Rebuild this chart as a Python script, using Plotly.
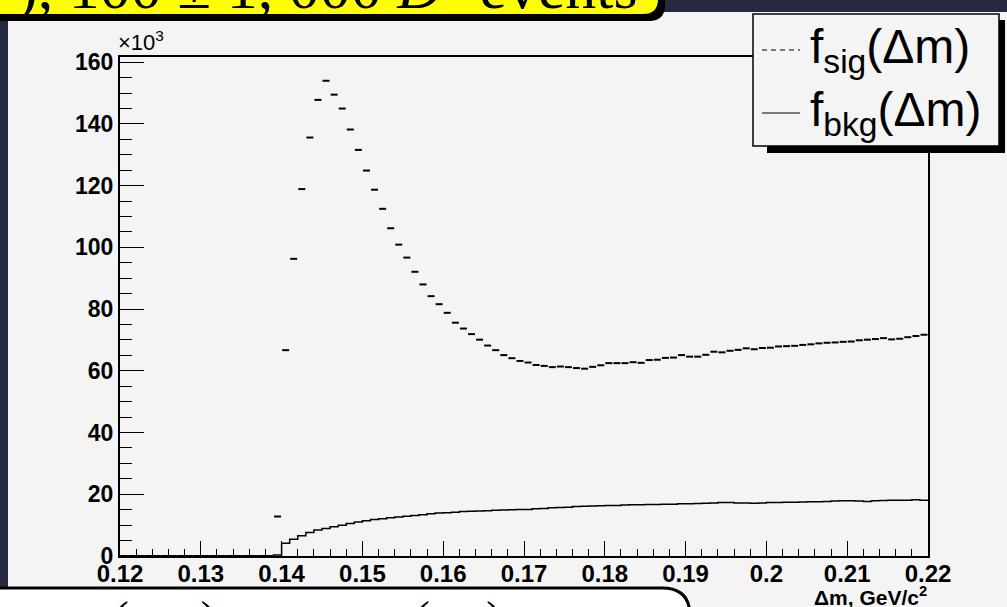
import numpy as np
import plotly.graph_objects as go

# ---------------- data (values in units of 10^3 entries) ----------------
bin_lo, bin_hi, n_bins = 0.12, 0.22, 100

sig_counts = [0.0] * 19 + [
    12.8, 66.7, 96.3, 118.9, 135.6, 147.8, 154.0, 149.5, 145.0, 138.2,
    131.6, 124.9, 118.7, 112.5, 106.2, 100.9, 96.7, 92.1, 88.0, 84.2,
    81.6, 78.8, 75.6, 73.7, 71.9, 70.1, 68.2, 66.7, 65.1, 64.1,
    63.2, 62.7, 61.9, 61.6, 61.2, 61.4, 61.2, 60.9, 60.7, 61.3,
    61.8, 62.5, 62.5, 62.5, 62.8, 62.6,
    63.5, 63.6, 64.2, 64.3, 65.1, 64.6, 64.6, 65.2, 66.2, 66.0,
    66.5, 66.8, 67.3, 67.0, 67.4, 67.5, 67.9, 68.0, 68.1, 68.4,
    68.6, 68.9, 69.1, 69.2, 69.4, 69.5, 69.9, 70.1, 70.3, 70.6,
    70.2, 70.4, 70.9, 71.3, 71.7,
]

bkg_counts = [0.0] * 19 + [
    0.3,
    4.1, 5.4, 6.6, 7.6, 8.4, 8.9, 9.5, 10.0, 10.5, 11.0,
    11.4, 11.8, 12.1, 12.4, 12.6, 12.9, 13.1, 13.4, 13.7, 13.9,
    14.0, 14.2, 14.4, 14.5, 14.6, 14.7, 14.8, 14.9, 15.0, 15.1,
    15.1, 15.3, 15.4, 15.6, 15.7, 15.8, 16.0, 16.1,
    16.2, 16.3, 16.4, 16.4, 16.5, 16.6, 16.6, 16.7, 16.7, 16.8,
    16.8, 16.9, 16.9, 17.0, 17.1, 17.2, 17.3, 17.3, 17.2, 17.2,
    17.1, 17.2, 17.3, 17.3, 17.4, 17.4, 17.5, 17.6, 17.6, 17.7,
    17.8, 17.9, 17.9, 17.8, 17.7, 17.9, 18.0, 18.1, 18.1, 18.1,
    18.2, 18.1,
]

x_ticks = [0.12, 0.13, 0.14, 0.15, 0.16, 0.17, 0.18, 0.19, 0.2, 0.21, 0.22]
x_tick_labels = ["0.12", "0.13", "0.14", "0.15", "0.16", "0.17", "0.18", "0.19", "0.2", "0.21", "0.22"]
y_ticks = [0, 20, 40, 60, 80, 100, 120, 140, 160]
y_tick_labels = ["0", "20", "40", "60", "80", "100", "120", "140", "160"]
y_max = 1.05 * max(sig_counts)

edges = np.linspace(bin_lo, bin_hi, n_bins + 1)
centers = 0.5 * (edges[:-1] + edges[1:])

# ---------------- geometry helpers (pixel -> paper) ----------------
W, H = 1007, 607
L, R, T, B = 120, 928, 57, 556


def px(x):
    return (x - L) / (R - L)


def py(y):
    return (B - y) / (B - T)


PAGE = "#262a40"
PAD = "#f4f4f4"

fig = go.Figure()

# signal: dashed histogram (one dash per bin)
fig.add_trace(go.Scatter(
    x=centers, y=sig_counts, mode="markers",
    marker=dict(symbol="line-ew-open", size=5, color="black",
                line=dict(color="black", width=2)),
    showlegend=False, hoverinfo="skip"))

# background: solid step histogram
fig.add_trace(go.Scatter(
    x=list(edges[:-1]) + [edges[-1]], y=bkg_counts + [bkg_counts[-1]],
    mode="lines", line=dict(color="black", width=1.5, shape="hv"),
    showlegend=False, hoverinfo="skip"))

shapes = []
# pad
shapes.append(dict(type="rect", xref="paper", yref="paper", layer="below",
                   x0=px(8), x1=px(1015), y0=py(615), y1=py(12),
                   fillcolor=PAD, line=dict(width=0)))


def rounded_box(x0, y0, x1, y1, r, corner):
    # corner: 'br' (bottom-right rounded) or 'tr' (top-right rounded)
    if corner == "br":
        p = (f"M {px(x0)},{py(y0)} L {px(x1)},{py(y0)} L {px(x1)},{py(y1 - r)} "
             f"Q {px(x1)},{py(y1)} {px(x1 - r)},{py(y1)} L {px(x0)},{py(y1)} Z")
    else:
        p = (f"M {px(x0)},{py(y1)} L {px(x0)},{py(y0)} L {px(x1 - r)},{py(y0)} "
             f"Q {px(x1)},{py(y0)} {px(x1)},{py(y0 + r)} L {px(x1)},{py(y1)} Z")
    return p


# yellow title box with shadow
shapes.append(dict(type="path", xref="paper", yref="paper", layer="above",
                   path=rounded_box(-20, -20, 665, 21, 16, "br"),
                   fillcolor="black", line=dict(width=0)))
shapes.append(dict(type="path", xref="paper", yref="paper", layer="above",
                   path=rounded_box(-20, -20, 659, 15, 16, "br"),
                   fillcolor="#ffff00", line=dict(color="black", width=2)))

# bottom white box
shapes.append(dict(type="path", xref="paper", yref="paper", layer="above",
                   path=rounded_box(-20, 588, 690, 630, 28, "tr"),
                   fillcolor="white", line=dict(color="black", width=3)))

# legend box with shadow
shapes.append(dict(type="rect", xref="paper", yref="paper", layer="above",
                   x0=px(767), x1=px(1005), y0=py(153), y1=py(20),
                   fillcolor="black", line=dict(width=0)))
shapes.append(dict(type="rect", xref="paper", yref="paper", layer="above",
                   x0=px(753), x1=px(999), y0=py(146), y1=py(14),
                   fillcolor=PAD, line=dict(color="black", width=1.5)))
shapes.append(dict(type="line", xref="paper", yref="paper", layer="above",
                   x0=px(762), x1=px(800), y0=py(50), y1=py(50),
                   line=dict(color="black", width=1, dash="5px,4px")))
shapes.append(dict(type="line", xref="paper", yref="paper", layer="above",
                   x0=px(762), x1=px(800), y0=py(113), y1=py(113),
                   line=dict(color="black", width=1.2)))

annotations = []
serif = "Liberation Serif"
sans = "Liberation Sans"
annotations.append(dict(xref="paper", yref="paper", x=px(640), y=py(24),
                        xanchor="right", yanchor="bottom", showarrow=False,
                        text="), 100 ± 1, 000 <i>D</i><sup>0</sup> events",
                        font=dict(family=serif, size=62, color="black")))
annotations.append(dict(xref="paper", yref="paper", x=px(112), y=py(591),
                        xanchor="left", yanchor="top", showarrow=False,
                        text="(m<sub>Kπ</sub>)",
                        font=dict(family=serif, size=44, color="black")))
annotations.append(dict(xref="paper", yref="paper", x=px(413), y=py(591),
                        xanchor="left", yanchor="top", showarrow=False,
                        text="(m<sub>K</sub>)",
                        font=dict(family=serif, size=44, color="black")))
annotations.append(dict(xref="paper", yref="paper", x=px(808), y=py(50),
                        xanchor="left", yanchor="middle", showarrow=False,
                        text="f<sub>sig</sub>(Δm)",
                        font=dict(family=sans, size=48, color="black")))
annotations.append(dict(xref="paper", yref="paper", x=px(808), y=py(113),
                        xanchor="left", yanchor="middle", showarrow=False,
                        text="f<sub>bkg</sub>(Δm)",
                        font=dict(family=sans, size=48, color="black")))
annotations.append(dict(xref="paper", yref="paper", x=px(116), y=py(57),
                        xanchor="left", yanchor="bottom", showarrow=False,
                        text="×10<sup>3</sup>",
                        font=dict(family=sans, size=22, color="black")))
annotations.append(dict(xref="paper", yref="paper", x=px(929), y=py(611),
                        xanchor="right", yanchor="bottom", showarrow=False,
                        text="Δm, GeV/c<sup>2</sup>",
                        font=dict(family=sans, size=21, color="black", weight="bold")))

fig.update_layout(
    width=W, height=H,
    margin=dict(l=L, r=W - R, t=T, b=H - B, pad=0),
    paper_bgcolor=PAGE, plot_bgcolor=PAD,
    shapes=shapes, annotations=annotations,
    showlegend=False,
)
fig.update_xaxes(
    range=[bin_lo, bin_hi], tickvals=x_ticks, ticktext=x_tick_labels,
    ticks="inside", ticklen=15, tickwidth=1.2, tickcolor="black",
    minor=dict(dtick=0.002, ticks="inside", ticklen=7, tickwidth=1, tickcolor="black"),
    showline=True, linecolor="black", linewidth=2, mirror=True,
    showgrid=False, zeroline=False, ticklabelstandoff=-5,
    tickfont=dict(family=sans, size=24, color="black", weight="bold"),
)
fig.update_yaxes(
    range=[0, y_max], tickvals=y_ticks, ticktext=y_tick_labels,
    ticks="inside", ticklen=24, tickwidth=1.2, tickcolor="black",
    minor=dict(dtick=5, ticks="inside", ticklen=12, tickwidth=1, tickcolor="black"),
    showline=True, linecolor="black", linewidth=2, mirror=True,
    showgrid=False, zeroline=False,
    tickfont=dict(family=sans, size=23, color="black", weight="bold"),
)

fig.write_html(
    "out.html",
    config={"displayModeBar": False},
    post_script="document.body.style.margin='0';document.body.style.padding='0';"
                "document.body.style.overflow='hidden';",
)
